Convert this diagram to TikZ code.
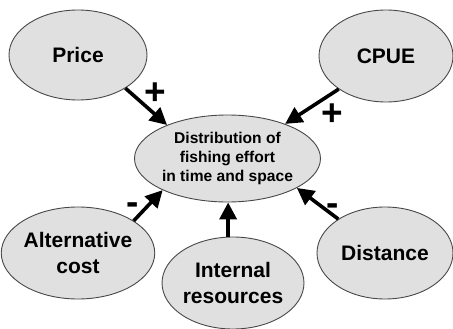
\documentclass[tikz,border=0pt]{standalone}
\usepackage{fontspec}
\setmainfont{Liberation Sans}
\usetikzlibrary{shapes.geometric,arrows.meta}
\definecolor{ellfill}{HTML}{E0E0E0}
\definecolor{elldraw}{HTML}{484848}
\begin{document}
\begin{tikzpicture}[x=1pt,y=-1pt,
 bub/.style={ellipse, draw=elldraw, line width=0.9pt, fill=ellfill, inner sep=0pt, align=center, font=\bfseries\fontsize{21}{26}\selectfont},
 small/.style={font=\bfseries\fontsize{15.6}{19}\selectfont},
 arr/.style={-{Triangle[length=17pt,width=17pt]}, line width=3.6pt},
 sign/.style={font=\bfseries\fontsize{37}{37}\selectfont, inner sep=0pt}]
\useasboundingbox (0,0) rectangle (453,329);
\node[bub, minimum width=138pt, minimum height=90pt] (price) at (78,55) {Price};
\node[bub, minimum width=134pt, minimum height=92pt] (cpue) at (386,56) {CPUE};
\node[bub, small, minimum width=186pt, minimum height=87pt] (center) at (227.5,158.5) {Distribution of\\fishing effort\\in time and space};
\node[bub, minimum width=140pt, minimum height=92pt] (alt) at (78,253) {Alternative\\cost};
\node[bub, minimum width=140pt, minimum height=92pt] (internal) at (233,283) {Internal\\resources};
\node[bub, minimum width=136pt, minimum height=92pt] (dist) at (385,253) {Distance};
\draw[arr] (price.-35) -- (center.151);
\draw[arr] (cpue.-145) -- (center.31);
\draw[arr] (alt.30) -- (center.206);
\draw[arr] (internal.96) -- (internal.96 |- center.south);
\draw[arr] (dist.144) -- (center.-23);
\node[sign] (p1) at (155,93.5) {+};
\node[sign] (p2) at (332.5,115) {+};
\node[sign] (m1) at (133,208.5) {-};
\node[sign] (m2) at (333,209.5) {-};
\end{tikzpicture}
\end{document}
